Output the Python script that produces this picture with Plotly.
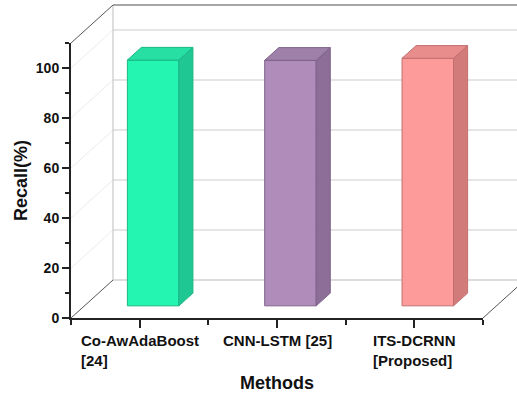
import plotly.graph_objects as go

# Recall of each method (percent)
methods = ["Co-AwAdaBoost [24]", "CNN-LSTM [25]", "ITS-DCRNN [Proposed]"]
method_labels = ["Co-AwAdaBoost<br>[24]", "CNN-LSTM [25]", "ITS-DCRNN<br>[Proposed]"]
recall = [98.3, 98.2, 99.0]
y_ticks = [0, 20, 40, 60, 80, 100]

front_colors = ["#24F6B1", "#B08CBA", "#FD9A9A"]
side_colors = ["#1FC893", "#8D6E98", "#D27B7B"]
top_colors = ["#27DFA3", "#9E80A8", "#E88C8C"]
edge_colors = ["#1BB884", "#7E6289", "#C27070"]

# axis ranges and pseudo-3D geometry (in data units)
X_RANGE = (0.5, 3.5)
Y_RANGE = (0, 110)
DX, DY = 0.306, 15.2          # full depth of the box
F = 0.32                      # depth of the bars' front face
BD = 0.335                    # bar depth as a fraction of the box depth
BAR_W = 0.375

FONT = "Liberation Sans, Arial, sans-serif"


def pxp(x):
    return (x - X_RANGE[0]) / (X_RANGE[1] - X_RANGE[0])


def pyp(y):
    return (y - Y_RANGE[0]) / (Y_RANGE[1] - Y_RANGE[0])


def line(x0, y0, x1, y1, color, width):
    return dict(type="line", xref="paper", yref="paper",
                x0=pxp(x0), y0=pyp(y0), x1=pxp(x1), y1=pyp(y1),
                line=dict(color=color, width=width), layer="below")


shapes = []
xl, xr = X_RANGE
# back wall gridlines and left-wall diagonals
for t in y_ticks[1:]:
    shapes.append(line(xl + DX, t + DY, xr + DX, t + DY, "#dcdcdc", 1.5))
    shapes.append(line(xl, t, xl + DX, t + DY, "#ececec", 1))
# floor back edge and back wall vertical edge
shapes.append(line(xl + DX, DY, xr + DX + 0.2, DY, "#d0d0d0", 1.5))
shapes.append(line(xl + DX, DY, xl + DX, Y_RANGE[1] + DY, "#c8c8c8", 1.2))
# top of the back wall
shapes.append(line(xl + DX, Y_RANGE[1] + DY, xr + DX + 0.2, Y_RANGE[1] + DY, "#8a8a8a", 1.5))
# depth edges of the box
shapes.append(line(xl, Y_RANGE[1], xl + DX, Y_RANGE[1] + DY, "#555555", 1))
shapes.append(line(xl, 0, xl + DX, DY, "#555555", 1))
shapes.append(line(xr, 0, xr + DX, DY, "#555555", 1))

fig = go.Figure()

pos = [1, 2, 3]
base = F * DY
shift = F * DX
ddx, ddy = BD * DX, BD * DY

# front faces
fig.add_trace(go.Bar(
    x=[p + shift for p in pos], y=recall, base=[base] * len(recall),
    width=BAR_W,
    marker=dict(color=front_colors, line=dict(color=edge_colors, width=1)),
    hoverinfo="skip", showlegend=False,
))

# side and top faces
for p, v, sc, tc, ec in zip(pos, recall, side_colors, top_colors, edge_colors):
    x0 = p + shift - BAR_W / 2
    x1 = p + shift + BAR_W / 2
    b, t = base, base + v
    fig.add_trace(go.Scatter(
        x=[x1, x1 + ddx, x1 + ddx, x1, x1],
        y=[b, b + ddy, t + ddy, t, b],
        fill="toself", fillcolor=sc, mode="lines",
        line=dict(color=ec, width=1), hoverinfo="skip", showlegend=False,
    ))
    fig.add_trace(go.Scatter(
        x=[x0, x1, x1 + ddx, x0 + ddx, x0],
        y=[t, t, t + ddy, t + ddy, t],
        fill="toself", fillcolor=tc, mode="lines",
        line=dict(color=ec, width=1), hoverinfo="skip", showlegend=False,
    ))

annotations = []
for p, lab in zip(pos, method_labels):
    annotations.append(dict(
        x=p, y=-0.045, xref="x", yref="paper", text=lab, showarrow=False,
        xanchor="center", yanchor="top", align="left",
        font=dict(family=FONT, size=15, color="#111111", weight="bold"),
    ))

fig.update_layout(
    width=517, height=398,
    margin=dict(l=71, r=34, t=43, b=80, autoexpand=False),
    paper_bgcolor="white", plot_bgcolor="rgba(0,0,0,0)",
    shapes=shapes, annotations=annotations,
    xaxis=dict(
        range=list(X_RANGE), tickvals=pos, showticklabels=False,
        ticks="outside", ticklen=8, tickwidth=1.5, tickcolor="#222222",
        minor=dict(ticks="outside", ticklen=5, tickwidth=1.5, tickcolor="#222222",
                   tick0=0.5, dtick=1),
        showline=True, linecolor="#222222", linewidth=2,
        showgrid=False, zeroline=False, fixedrange=True, automargin=False,
        title=dict(text="Methods", standoff=49,
                   font=dict(family=FONT, size=18, color="#111111", weight="bold")),
    ),
    yaxis=dict(
        range=list(Y_RANGE), tickvals=y_ticks,
        ticks="outside", ticklen=7, tickwidth=1.5, tickcolor="#222222",
        minor=dict(ticks="outside", ticklen=4, tickwidth=1.5, tickcolor="#222222",
                   tick0=0, dtick=10),
        tickfont=dict(family=FONT, size=14, color="#111111", weight="bold"),
        showline=True, linecolor="#222222", linewidth=2,
        showgrid=False, zeroline=False, fixedrange=True, automargin=False,
        title=dict(text="Recall(%)", standoff=4,
                   font=dict(family=FONT, size=18, color="#111111", weight="bold")),
    ),
)

fig.write_html("out.html")
